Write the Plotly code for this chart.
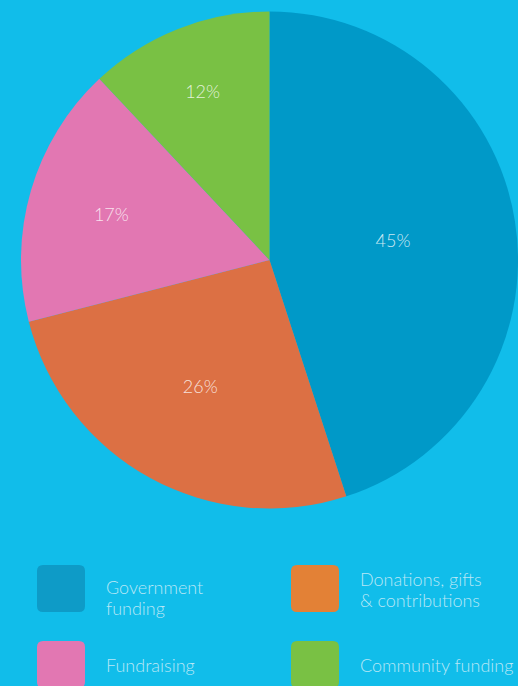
import plotly.graph_objects as go

categories = ["Government funding", "Donations, gifts & contributions", "Fundraising", "Community funding"]
legend_lines = [["Government", "funding"], ["Donations, gifts", "& contributions"], ["Fundraising"], ["Community funding"]]
values = [45, 26, 17, 12]
pie_colors = ["#0099C8", "#DC7044", "#E277B2", "#79C144"]
legend_colors = ["#0E9BC7", "#E38136", "#E277B2", "#79C144"]

W, H = 518, 686
BG = "#11BDEA"

fig = go.Figure()
fig.add_trace(go.Pie(
    labels=categories,
    values=values,
    sort=False,
    direction="clockwise",
    rotation=0,
    marker=dict(colors=pie_colors, line=dict(width=0)),
    textinfo="percent",
    texttemplate="%{percent:.0%}",
    textposition="inside",
    insidetextorientation="horizontal",
    textfont=dict(family="Lato", size=18, weight=300, color="rgba(255,255,255,0.8)"),
    showlegend=False,
    hoverinfo="label+percent",
    domain=dict(x=[21 / W, 1.0], y=[1 - 510 / H, 1 - 10 / H]),
))

def px(x):
    return x / W

def py(y):
    return 1 - y / H

def rounded_rect(x0, y0, x1, y1, r):
    return (f"M {px(x0 + r)},{py(y0)} L {px(x1 - r)},{py(y0)} "
            f"Q {px(x1)},{py(y0)} {px(x1)},{py(y0 + r)} "
            f"L {px(x1)},{py(y1 - r)} Q {px(x1)},{py(y1)} {px(x1 - r)},{py(y1)} "
            f"L {px(x0 + r)},{py(y1)} Q {px(x0)},{py(y1)} {px(x0)},{py(y1 - r)} "
            f"L {px(x0)},{py(y0 + r)} Q {px(x0)},{py(y0)} {px(x0 + r)},{py(y0)} Z")

slots = [(37, 565), (291, 565), (37, 641), (291, 641)]
# vertical centre of first text line for each legend entry (pixels)
text_first_y = [587, 579, 665, 665]
LINE = 21
shapes = []
annotations = []
for (sx, sy), col, lines, ty in zip(slots, legend_colors, legend_lines, text_first_y):
    shapes.append(dict(type="path", xref="paper", yref="paper",
                       path=rounded_rect(sx, sy, sx + 48, sy + 47, 6),
                       fillcolor=col, line=dict(width=0), layer="above"))
    for i, ln in enumerate(lines):
        annotations.append(dict(x=px(sx + 67), y=py(ty + i * LINE), xref="paper", yref="paper",
                                text=ln, showarrow=False, xanchor="left", yanchor="middle",
                                align="left",
                                font=dict(family="Lato", size=18, weight=300, color="#B8E7F6")))

fig.update_layout(
    width=W, height=H,
    margin=dict(l=0, r=0, t=0, b=0),
    paper_bgcolor=BG, plot_bgcolor=BG,
    shapes=shapes, annotations=annotations,
)

fig.write_html("out.html", config={"displayModeBar": False},
               post_script="document.body.style.margin='0';document.body.style.overflow='hidden';")
